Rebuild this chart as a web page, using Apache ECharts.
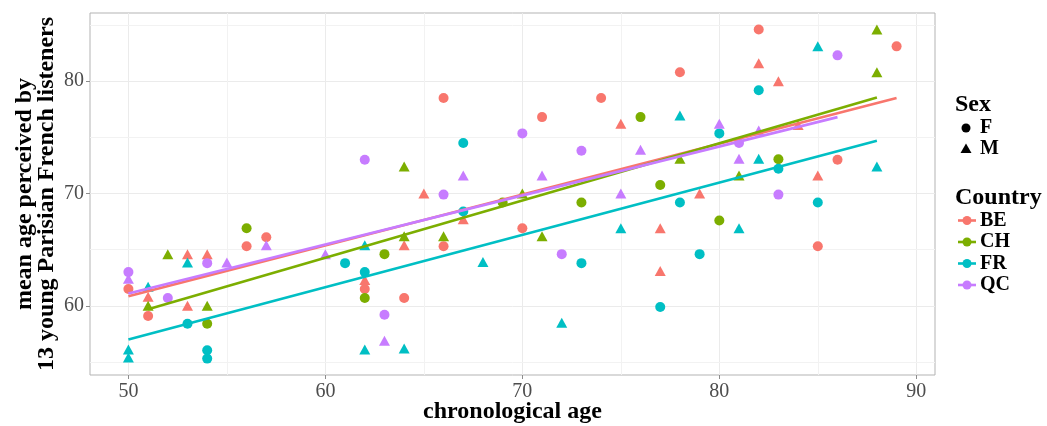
<!DOCTYPE html>
<html>
<head>
<meta charset="utf-8">
<script src="https://cdn.jsdelivr.net/npm/echarts@6/dist/echarts.min.js"></script>
<style>
  html, body { margin: 0; padding: 0; background: #fff; }
  #chart { width: 1047px; height: 426px; }
</style>
</head>
<body>
<div id="chart"></div>
<script>
// age ticks / perceived-age ticks
const xTicks = [50, 60, 70, 80, 90]
const yTicks = [60, 70, 80]
const xMinor = [55, 65, 75, 85]
const yMinor = [55, 65, 75, 85]

const countries = ['BE', 'CH', 'FR', 'QC']
const colors = ['#F8766D', '#7CAE00', '#00BFC4', '#C77CFF']

// [chronological age, mean perceived age] — F = circles, M = triangles
const beF = [[50, 61.5], [51, 59.1], [56, 65.3], [57, 66.1], [62, 61.5], [64, 60.7], [66, 78.5], [66, 65.3],
  [70, 66.9], [71, 76.8], [74, 78.5], [78, 80.8], [82, 84.6], [85, 65.3], [86, 73.0], [89, 83.1]]
const beM = [[51, 60.8], [53, 64.6], [53, 60.0], [54, 64.6], [62, 62.3], [64, 65.4], [65, 70.0], [67, 67.7],
  [75, 76.2], [77, 66.9], [77, 63.1], [79, 70.0], [82, 81.6], [83, 80.0], [84, 76.1], [85, 71.6]]
const chF = [[54, 58.4], [56, 66.9], [62, 60.7], [63, 64.6], [69, 69.2], [73, 69.2], [76, 76.8], [77, 70.75],
  [80, 67.6], [83, 73.05]]
const chM = [[51, 60.0], [52, 64.6], [54, 60.0], [64, 72.4], [64, 66.2], [66, 66.2], [70, 70.0], [71, 66.2],
  [78, 73.1], [81, 71.6], [88, 84.6], [88, 80.8]]
const frF = [[53, 58.4], [54, 56.05], [54, 55.3], [61, 63.8], [62, 63.0], [67, 74.5], [67, 68.4], [73, 63.8],
  [77, 59.9], [78, 69.2], [79, 64.6], [80, 75.35], [82, 79.2], [83, 72.2], [85, 69.2]]
const frM = [[50, 56.1], [50, 55.4], [51, 61.7], [53, 63.85], [62, 65.4], [62, 56.1], [64, 56.2], [68, 63.9],
  [72, 58.5], [75, 66.9], [78, 76.95], [81, 66.9], [82, 73.1], [85, 83.1], [88, 72.4]]
const qcF = [[50, 63.0], [52, 60.7], [54, 63.8], [62, 73.0], [63, 59.2], [66, 69.9], [70, 75.35], [72, 64.6],
  [73, 73.8], [81, 74.5], [83, 69.9], [86, 82.3]]
const qcM = [[50, 62.4], [55, 63.85], [57, 65.4], [60, 64.6], [63, 56.9], [67, 71.6], [71, 71.6], [75, 70.0],
  [76, 73.9], [80, 76.2], [81, 73.1], [82, 75.6]]

// fitted lines, start and end
const beFit = [[50, 60.85], [89, 78.5]]
const chFit = [[51, 59.7], [88, 78.55]]
const frFit = [[50, 57.0], [88, 74.7]]
const qcFit = [[50, 61.1], [86, 76.8]]

const females = [beF, chF, frF, qcF]
const males = [beM, chM, frM, qcM]
const fits = [beFit, chFit, frFit, qcFit]

const serif = '"Liberation Serif", "DejaVu Serif", serif'

const series = []
// minor grid lines (kept under the points)
series.push({
  type: 'scatter',
  data: [],
  z: 1,
  silent: true,
  markLine: {
    z: 1,
    silent: true,
    symbol: 'none',
    label: { show: false },
    lineStyle: { color: '#f2f2f2', width: 1, type: 'solid' },
    emphasis: { disabled: true },
    data: xMinor.map((v) => ({ xAxis: v })).concat(yMinor.map((v) => ({ yAxis: v }))),
  },
})
for (let i = 0; i < countries.length; i++) {
  series.push({
    name: countries[i] + ' F',
    type: 'scatter',
    data: females[i],
    symbol: 'circle',
    symbolSize: 10,
    itemStyle: { color: colors[i], opacity: 1 },
    z: 3,
    zlevel: 1,
  })
  series.push({
    name: countries[i] + ' M',
    type: 'scatter',
    data: males[i],
    symbol: 'triangle',
    symbolSize: [11, 10],
    itemStyle: { color: colors[i], opacity: 1 },
    z: 3,
    zlevel: 1,
  })
}
for (let i = 0; i < countries.length; i++) {
  series.push({
    name: countries[i],
    type: 'line',
    data: fits[i],
    showSymbol: false,
    lineStyle: { color: colors[i], width: 2.6 },
    z: 4,
    zlevel: 1,
    silent: true,
  })
}

// legend drawn by hand (Sex / Country)
const legend = [
  { type: 'text', left: 955, top: 93, style: { text: 'Sex', font: 'bold 24px ' + serif, fill: '#000' } },
  { type: 'circle', shape: { cx: 966, cy: 128, r: 4.5 }, style: { fill: '#000' } },
  { type: 'polygon', shape: { points: [[966, 143.5], [971.5, 153], [960.5, 153]] }, style: { fill: '#000' } },
  { type: 'text', left: 980, top: 118, style: { text: 'F', font: 'bold 20px ' + serif, fill: '#000' } },
  { type: 'text', left: 980, top: 139, style: { text: 'M', font: 'bold 20px ' + serif, fill: '#000' } },
  { type: 'text', left: 955, top: 186, style: { text: 'Country', font: 'bold 24px ' + serif, fill: '#000' } },
]
const keyY = [220.5, 242, 263.5, 285]
for (let i = 0; i < countries.length; i++) {
  legend.push({ type: 'line', shape: { x1: 958, y1: keyY[i], x2: 976, y2: keyY[i] }, style: { stroke: colors[i], lineWidth: 2.6 } })
  legend.push({ type: 'circle', shape: { cx: 967, cy: keyY[i], r: 4.5 }, style: { fill: colors[i] } })
  legend.push({ type: 'text', left: 980, top: keyY[i] - 10, style: { text: countries[i], font: 'bold 20px ' + serif, fill: '#000' } })
}

const option = {
  animation: false,
  backgroundColor: '#fff',
  grid: {
    left: 90,
    right: 112,
    top: 13,
    bottom: 51,
    outerBoundsMode: 'none',
    show: true,
    borderColor: '#b3b3b3',
    borderWidth: 1,
    backgroundColor: '#fff',
  },
  xAxis: {
    type: 'value',
    min: 48.05,
    max: 90.95,
    splitNumber: 4,
    name: 'chronological age',
    nameLocation: 'middle',
    nameGap: 25,
    nameMoveOverlap: false,
    nameTextStyle: { fontFamily: serif, fontWeight: 'bold', fontSize: 24, color: '#000' },
    axisLine: { show: false },
    axisTick: { show: true, length: 4, lineStyle: { color: '#8c8c8c' }, customValues: xTicks },
    axisLabel: {
      customValues: xTicks,
      formatter: (v) => (xTicks.includes(v) ? String(v) : ''),
      color: '#4d4d4d',
      fontFamily: serif,
      fontSize: 20,
      margin: 7,
    },
    splitLine: { show: true, lineStyle: { color: '#ebebeb', width: 1 } },
  },
  yAxis: {
    type: 'value',
    min: 53.84,
    max: 86.07,
    splitNumber: 3,
    name: 'mean age perceived by\n13 young Parisian French listeners',
    nameLocation: 'middle',
    nameRotate: 90,
    nameGap: 32,
    nameMoveOverlap: false,
    nameTextStyle: { fontFamily: serif, fontWeight: 'bold', fontSize: 24, color: '#000', lineHeight: 22 },
    axisLine: { show: false },
    axisTick: { show: true, length: 4, lineStyle: { color: '#8c8c8c' }, customValues: yTicks },
    axisLabel: {
      customValues: yTicks,
      formatter: (v) => (yTicks.includes(v) ? String(v) : ''),
      color: '#4d4d4d',
      fontFamily: serif,
      fontSize: 20,
      margin: 6,
    },
    splitLine: { show: true, lineStyle: { color: '#ebebeb', width: 1 } },
  },
  graphic: legend,
  series: series,
}

const myChart = echarts.init(document.getElementById('chart'))
myChart.setOption(option)
window.addEventListener('resize', () => {
  myChart.resize()
})
</script>
</body>
</html>
